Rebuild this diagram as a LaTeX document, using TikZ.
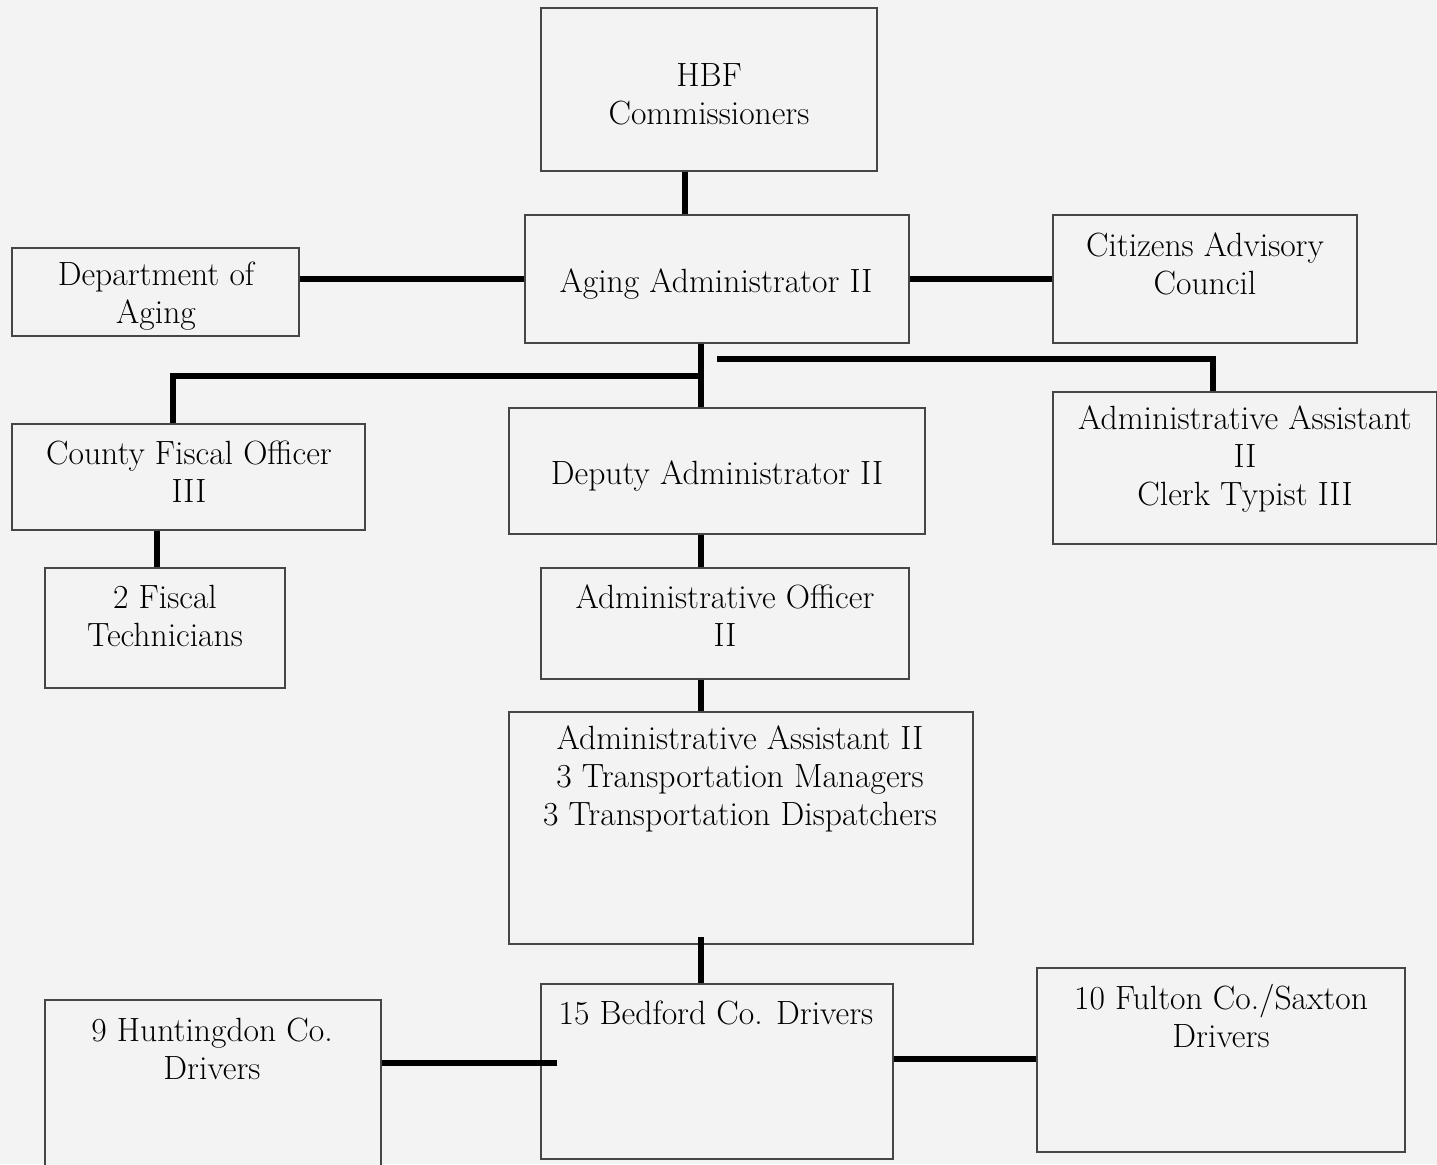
\documentclass[tikz,border=0pt]{standalone}
\usetikzlibrary{fit}
\definecolor{bg}{HTML}{F3F3F3}
\definecolor{boxgray}{HTML}{454545}
\begin{document}
\begin{tikzpicture}[x=0.75pt,y=-0.75pt,
  box/.style={draw=boxgray, line width=1.4pt, fill=bg, inner sep=0pt},
  txt/.style={align=center, font=\fontsize{25.2}{28.5}\selectfont, inner sep=0pt},
  conn/.style={draw=black, line width=3.9pt}]
\useasboundingbox (0,0) rectangle (1437,1164);
\clip (0,0) rectangle (1437,1164);
\fill[bg] (0,0) rectangle (1437,1164);

% boxes
\node[box, fit={(541,8) (877,171)}] (hbf) {};
\node[box, fit={(525,215) (909,343)}] (aging) {};
\node[box, fit={(12,248) (299,336)}] (dept) {};
\node[box, fit={(1053,215) (1357,343)}] (cit) {};
\node[box, fit={(12,424) (365,530)}] (county) {};
\node[box, fit={(509,408) (925,534)}] (deputy) {};
\node[box, fit={(1053,392) (1437,544)}] (aa) {};
\node[box, fit={(45,568) (285,688)}] (fiscal) {};
\node[box, fit={(541,568) (909,679)}] (officer) {};
\node[box, fit={(509,712) (973,944)}] (aa2) {};
\node[box, fit={(541,984) (893,1159)}] (bedford) {};
\node[box, fit={(45,1000) (381,1175)}] (hunt) {};
\node[box, fit={(1037,968) (1405,1152)}] (fulton) {};

% texts
\node[txt] (hbfT) at (709,94) {HBF\\Commissioners};
\node[txt] (agingT) at (716,284) {Aging Administrator II};
\node[txt] (deptT) at (156,296) {Department of\\Aging};
\node[txt] (citT) at (1205,264) {Citizens Advisory\\Council};
\node[txt] (countyT) at (189,472) {County Fiscal Officer\\III};
\node[txt] (deputyT) at (717,476) {Deputy Administrator II};
\node[txt] (aaT) at (1245,459) {Administrative Assistant\\II\\Clerk Typist III};
\node[txt] (fiscalT) at (165,616) {2 Fiscal\\Technicians};
\node[txt] (officerT) at (725,616) {Administrative Officer\\II};
\node[txt] (aa2T) at (740,779) {Administrative Assistant II\\3 Transportation Managers\\3 Transportation Dispatchers};
\node[txt] (bedfordT) at (716,1013) {15 Bedford Co. Drivers};
\node[txt] (huntT) at (212,1049) {9 Huntingdon Co.\\Drivers};
\node[txt] (fultonT) at (1221,1016) {10 Fulton Co./Saxton\\Drivers};

% helper coordinates
\coordinate (xA) at (685,0);
\coordinate (xB) at (701,0);
\coordinate (xC) at (173,0);
\coordinate (xD) at (157,0);
\coordinate (xE) at (1213,0);
\coordinate (yF) at (0,376);
\coordinate (rStart) at (717,359);
\coordinate (hEnd) at (557,1063);
\coordinate (yBF) at (0,1059);

% connectors
\draw[conn] (xA |- hbf.south) -- (xA |- aging.north);
\draw[conn] (dept.east |- aging.west) -- (aging.west);
\draw[conn] (aging.east) -- (cit.west);
\draw[conn] (xB |- aging.south) -- (xB |- deputy.north);
\draw[conn] (xB |- yF) -- (xC |- yF) -- (xC |- county.north);
\draw[conn] (rStart) -- (xE |- rStart) -- (xE |- aa.north);
\draw[conn] (xD |- county.south) -- (xD |- fiscal.north);
\draw[conn] (xB |- deputy.south) -- (xB |- officer.north);
\draw[conn] (xB |- officer.south) -- (xB |- aa2.north);
\draw[conn] ([yshift=6pt]xB |- aa2.south) -- (xB |- bedford.north);
\draw[conn] (hunt.east |- hEnd) -- (hEnd);
\draw[conn] (bedford.east |- yBF) -- (fulton.west |- yBF);
\end{tikzpicture}
\end{document}
